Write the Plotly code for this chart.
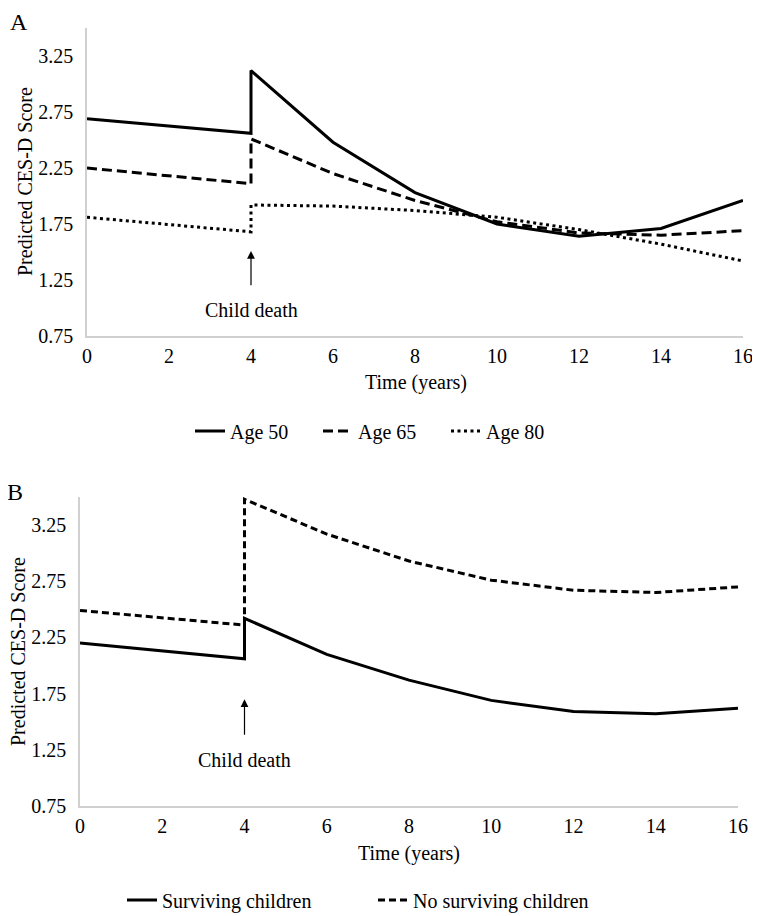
import plotly.graph_objects as go

# ---- data ----
time_pts = [0, 4, 4, 6, 8, 10, 12, 14, 16]
age50 = [2.69, 2.56, 3.12, 2.48, 2.03, 1.75, 1.64, 1.71, 1.96]
age65 = [2.25, 2.11, 2.51, 2.20, 1.96, 1.77, 1.67, 1.65, 1.69]
age80 = [1.81, 1.68, 1.92, 1.91, 1.87, 1.81, 1.70, 1.57, 1.42]

surviving = [2.20, 2.06, 2.42, 2.10, 1.87, 1.69, 1.59, 1.57, 1.62]
no_surviving = [2.49, 2.36, 3.48, 3.17, 2.93, 2.76, 2.67, 2.65, 2.70]

x_ticks = [0, 2, 4, 6, 8, 10, 12, 14, 16]
y_ticks = [0.75, 1.25, 1.75, 2.25, 2.75, 3.25]
y_tick_text = ["0.75", "1.25", "1.75", "2.25", "2.75", "3.25"]

FONT = "Liberation Serif"
OFF = 8              # page body margin
W, H = 752, 908
FS = 20

fig = go.Figure()

fig.add_trace(go.Scatter(x=time_pts, y=age50, mode="lines", name="Age 50",
                         line=dict(color="black", width=3, dash="solid"),
                         xaxis="x", yaxis="y", legend="legend"))
fig.add_trace(go.Scatter(x=time_pts, y=age65, mode="lines", name="Age 65",
                         line=dict(color="black", width=3, dash="10px,5px"),
                         xaxis="x", yaxis="y", legend="legend"))
fig.add_trace(go.Scatter(x=time_pts, y=age80, mode="lines", name="Age 80",
                         line=dict(color="black", width=3, dash="3px,3.5px"),
                         xaxis="x", yaxis="y", legend="legend"))

fig.add_trace(go.Scatter(x=time_pts, y=surviving, mode="lines", name="Surviving children",
                         line=dict(color="black", width=3, dash="solid"),
                         xaxis="x2", yaxis="y2", legend="legend2"))
fig.add_trace(go.Scatter(x=time_pts, y=no_surviving, mode="lines", name="No surviving children",
                         line=dict(color="black", width=3, dash="7px,4px"),
                         xaxis="x2", yaxis="y2", legend="legend2"))

axis_common = dict(showgrid=False, zeroline=False, showline=True, automargin=False,
                   linecolor="#d0d0d0", linewidth=1.5, ticks="",
                   tickfont=dict(family=FONT, size=FS, color="black"))

def px_x(p):
    return (p - OFF) / W

def px_y(p):
    return 1 - (p - OFF) / H

fig.update_layout(
    width=W, height=H,
    margin=dict(l=0, r=0, t=0, b=0, autoexpand=False),
    paper_bgcolor="white", plot_bgcolor="white",
    font=dict(family=FONT, size=FS, color="black"),
    xaxis=dict(domain=[px_x(87), px_x(743)], range=[0, 16], tickvals=x_ticks,
               anchor="y", ticklabelstandoff=1, **axis_common),
    yaxis=dict(domain=[px_y(336), px_y(28)], range=[0.75, 3.5], tickvals=y_ticks,
               ticktext=y_tick_text, anchor="x", ticklabelstandoff=8, **axis_common),
    xaxis2=dict(domain=[px_x(80), px_x(738)], range=[0, 16], tickvals=x_ticks,
                anchor="y2", ticklabelstandoff=1, **axis_common),
    yaxis2=dict(domain=[px_y(806), px_y(497)], range=[0.75, 3.5], tickvals=y_ticks,
                ticktext=y_tick_text, anchor="x2", ticklabelstandoff=8, **axis_common),
    legend=dict(orientation="h", x=px_x(190), y=px_y(431), xanchor="left", yanchor="middle",
                font=dict(family=FONT, size=FS, color="black"), bgcolor="rgba(0,0,0,0)",
                entrywidth=83),
    legend2=dict(orientation="h", x=px_x(122), y=px_y(900), xanchor="left", yanchor="middle",
                 font=dict(family=FONT, size=FS, color="black"), bgcolor="rgba(0,0,0,0)",
                 entrywidth=206),
    showlegend=True,
)

annotations = [
    # panel labels
    dict(text="A", x=px_x(8), y=px_y(22), xref="paper", yref="paper", showarrow=False,
         xanchor="left", yanchor="middle", font=dict(family=FONT, size=24)),
    dict(text="B", x=px_x(5), y=px_y(492), xref="paper", yref="paper", showarrow=False,
         xanchor="left", yanchor="middle", font=dict(family=FONT, size=24)),
    # y-axis titles
    dict(text="Predicted CES-D Score", x=px_x(25), y=px_y(182), xref="paper", yref="paper",
         showarrow=False, textangle=-90, xanchor="center", yanchor="middle",
         font=dict(family=FONT, size=FS)),
    dict(text="Predicted CES-D Score", x=px_x(18), y=px_y(652), xref="paper", yref="paper",
         showarrow=False, textangle=-90, xanchor="center", yanchor="middle",
         font=dict(family=FONT, size=FS)),
    # x-axis titles
    dict(text="Time (years)", x=px_x(416), y=px_y(383), xref="paper", yref="paper",
         showarrow=False, xanchor="center", yanchor="middle", font=dict(family=FONT, size=FS)),
    dict(text="Time (years)", x=px_x(409), y=px_y(853), xref="paper", yref="paper",
         showarrow=False, xanchor="center", yanchor="middle", font=dict(family=FONT, size=FS)),
    # child death arrows
    dict(text="", x=4, y=1.51, ax=4, ay=1.19, xref="x", yref="y", axref="x", ayref="y",
         showarrow=True, arrowhead=2, arrowsize=1.3, arrowwidth=1.2, arrowcolor="black"),
    dict(text="Child death", x=4, y=0.98, xref="x", yref="y", showarrow=False,
         font=dict(family=FONT, size=FS)),
    dict(text="", x=4, y=1.70, ax=4, ay=1.37, xref="x2", yref="y2", axref="x2", ayref="y2",
         showarrow=True, arrowhead=2, arrowsize=1.3, arrowwidth=1.2, arrowcolor="black"),
    dict(text="Child death", x=4, y=1.16, xref="x2", yref="y2", showarrow=False,
         font=dict(family=FONT, size=FS)),
]
fig.update_layout(annotations=annotations)

fig.write_html("out.html")
